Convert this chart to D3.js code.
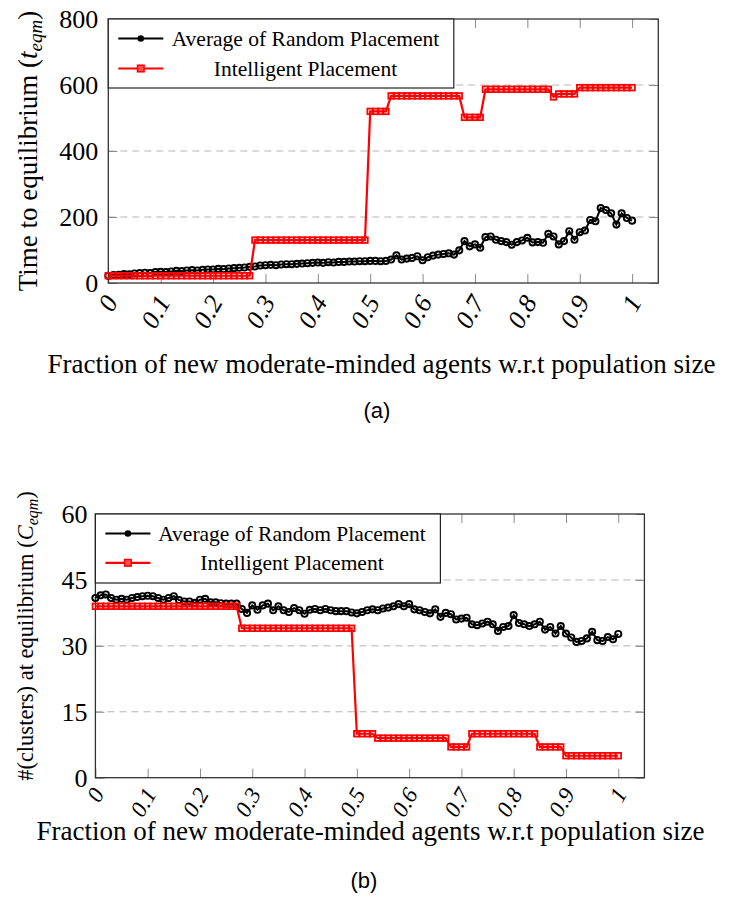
<!DOCTYPE html>
<html>
<head>
<meta charset="utf-8">
<script src="https://cdn.jsdelivr.net/npm/d3@7"></script>
<style>
  body { margin: 0; background: #fff; }
  text { font-family: "Liberation Serif", "Times New Roman", serif; fill: #000; }
</style>
</head>
<body>
<svg id="fig" width="751" height="923"></svg>
<script>
// x positions: fraction of new moderate-minded agents, step 0.01
var fractions = d3.range(0, 101).map(function(i) { return i / 100; });
var xTicks = [0, 0.1, 0.2, 0.3, 0.4, 0.5, 0.6, 0.7, 0.8, 0.9, 1];

// (a) time to equilibrium
var timeRandom = [
  22, 24, 25, 27, 26, 29, 30, 31, 30, 33,
  34, 33, 35, 37, 36, 38, 39, 38, 40, 41,
  41, 43, 42, 44, 45, 46, 47, 49, 50, 53,
  54, 55, 54, 56, 57, 57, 58, 59, 60, 61,
  62, 61, 63, 62, 64, 64, 65, 65, 66, 66,
  67, 67, 66, 67, 71, 84, 71, 74, 76, 81,
  69, 78, 83, 86, 88, 90, 86, 99, 127, 111,
  117, 107, 139, 141, 131, 127, 124, 116, 124, 129,
  137, 123, 124, 122, 149, 141, 117, 127, 157, 131,
  154, 159, 191, 187, 227, 221, 211, 177, 211, 197, 189
];
var timeIntelligent = [
  22, 22, 22, 22, 22, 22, 22, 22, 22, 22,
  22, 22, 22, 22, 22, 22, 22, 22, 22, 22,
  22, 22, 22, 22, 22, 22, 22, 22, 130, 130,
  130, 130, 130, 130, 130, 130, 130, 130, 130, 130,
  130, 130, 130, 130, 130, 130, 130, 130, 130, 130,
  520, 520, 520, 520, 567, 567, 567, 567, 567, 567,
  567, 567, 567, 567, 567, 567, 567, 567, 502, 502,
  502, 502, 587, 587, 587, 587, 587, 587, 587, 587,
  587, 587, 587, 587, 587, 564, 573, 573, 573, 573,
  592, 592, 592, 592, 592, 592, 592, 592, 592, 592, 592
];
var timeTicks = [0, 200, 400, 600, 800];

// (b) number of clusters at equilibrium
var clusterRandom = [
  40.9, 41.5, 41.7, 40.9, 40.5, 40.7, 40.5, 40.9, 41.1, 41.3,
  41.4, 41.3, 40.9, 40.5, 40.9, 41.3, 40.4, 40.1, 40.1, 39.8,
  40.5, 40.7, 39.9, 39.9, 39.7, 39.6, 39.6, 39.6, 38.4, 37.5,
  39.2, 38.2, 39.2, 39.6, 38.1, 39.0, 38.1, 37.7, 38.6, 38.1,
  37.3, 38.2, 38.4, 38.1, 38.4, 38.1, 37.9, 37.9, 37.9, 37.6,
  37.4, 37.7, 38.1, 38.3, 38.1, 38.5, 38.7, 39.0, 39.5, 39.0,
  39.5, 38.3, 38.1, 37.7, 37.4, 38.3, 36.6, 37.5, 37.2, 36.0,
  36.2, 36.4, 34.9, 34.7, 35.1, 35.5, 34.9, 33.4, 34.3, 34.5,
  37.0, 35.2, 34.9, 34.5, 34.9, 35.5, 33.7, 34.3, 32.8, 34.5,
  32.8, 31.9, 30.9, 31.1, 31.7, 33.2, 31.3, 31.1, 32.0, 31.5, 32.7
];
var clusterIntelligent = [
  39, 39, 39, 39, 39, 39, 39, 39, 39, 39,
  39, 39, 39, 39, 39, 39, 39, 39, 39, 39,
  39, 39, 39, 39, 39, 39, 39, 39, 34, 34,
  34, 34, 34, 34, 34, 34, 34, 34, 34, 34,
  34, 34, 34, 34, 34, 34, 34, 34, 34, 34,
  10, 10, 10, 10, 9, 9, 9, 9, 9, 9,
  9, 9, 9, 9, 9, 9, 9, 9, 7, 7,
  7, 7, 10, 10, 10, 10, 10, 10, 10, 10,
  10, 10, 10, 10, 10, 7, 7, 7, 7, 7,
  5, 5, 5, 5, 5, 5, 5, 5, 5, 5, 5
];
var clusterTicks = [0, 15, 30, 45, 60];

var seriesNames = ["Average of Random Placement", "Intelligent Placement"];
var xTitle = "Fraction of new moderate-minded agents w.r.t population size";

var svg = d3.select("#fig");

function drawPanel(p) {
  var g = svg.append("g");
  var x = d3.scaleLinear().domain([0, 1.05]).range([p.left, p.right]);
  var y = d3.scaleLinear().domain([0, p.yTicks[p.yTicks.length - 1]]).range([p.bottom, p.top]);

  // dashed grid
  g.append("g").selectAll("line")
    .data(p.yTicks.slice(1, -1))
    .enter().append("line")
    .attr("x1", p.left).attr("x2", p.right)
    .attr("y1", function(d) { return y(d); })
    .attr("y2", function(d) { return y(d); })
    .attr("stroke", "#b5b5b5").attr("stroke-width", 1)
    .attr("stroke-dasharray", "7,5");

  // inward ticks on all four sides
  var tk = 9;
  var sides = [
    [d3.axisTop(x).tickValues(xTicks), "translate(0," + p.bottom + ")"],
    [d3.axisBottom(x).tickValues(xTicks), "translate(0," + p.top + ")"],
    [d3.axisRight(y).tickValues(p.yTicks), "translate(" + p.left + ",0)"],
    [d3.axisLeft(y).tickValues(p.yTicks), "translate(" + p.right + ",0)"]
  ];
  sides.forEach(function(s) {
    var a = g.append("g").attr("transform", s[1])
      .call(s[0].tickSize(tk).tickFormat(""));
    a.select(".domain").remove();
    a.selectAll("line").attr("stroke", "#8a8a8a");
  });

  // x tick labels, rotated
  var xl = g.append("g").attr("transform", "translate(0," + p.bottom + ")")
    .call(d3.axisBottom(x).tickValues(xTicks).tickSize(0).tickFormat(function(d) { return d; }));
  xl.select(".domain").remove();
  xl.selectAll("text")
    .attr("y", 0).attr("dy", 0)
    .attr("transform", p.xLabelShift + " rotate(-60)")
    .attr("text-anchor", "end")
    .style("font-family", '"Liberation Serif", serif')
    .style("font-style", "italic")
    .style("font-size", p.xLabelSize + "px");

  // y tick labels
  var yl = g.append("g").attr("transform", "translate(" + p.left + ",0)")
    .call(d3.axisLeft(y).tickValues(p.yTicks).tickSize(0).tickPadding(p.yPad));
  yl.select(".domain").remove();
  yl.selectAll("text")
    .style("font-family", '"Liberation Serif", serif')
    .style("font-size", "26px");

  // frame
  g.append("rect")
    .attr("x", p.left).attr("y", p.top)
    .attr("width", p.right - p.left).attr("height", p.bottom - p.top)
    .attr("fill", "none").attr("stroke", "#333").attr("stroke-width", 1.3);

  var line = d3.line()
    .x(function(d, i) { return x(fractions[i]); })
    .y(function(d) { return y(d); });

  // random placement (black, open circles)
  g.append("path").datum(p.black)
    .attr("d", line).attr("fill", "none")
    .attr("stroke", "#000").attr("stroke-width", 2);
  g.append("g").selectAll("circle")
    .data(p.black).enter().append("circle")
    .attr("cx", function(d, i) { return x(fractions[i]); })
    .attr("cy", function(d) { return y(d); })
    .attr("r", 3.1)
    .attr("fill", "none").attr("stroke", "#000").attr("stroke-width", 1.9);

  // intelligent placement (red, open squares)
  g.append("path").datum(p.red)
    .attr("d", line).attr("fill", "none")
    .attr("stroke", "#ff0000").attr("stroke-width", 2.2);
  g.append("g").selectAll("rect")
    .data(p.red).enter().append("rect")
    .attr("x", function(d, i) { return x(fractions[i]) - 2.8; })
    .attr("y", function(d) { return y(d) - 2.8; })
    .attr("width", 5.6).attr("height", 5.6)
    .attr("fill", "none").attr("stroke", "#ff0000").attr("stroke-width", 1.8);

  // legend
  var lg = g.append("g");
  lg.append("rect")
    .attr("x", p.left).attr("y", p.top)
    .attr("width", p.legW).attr("height", p.legH)
    .attr("fill", "#fff").attr("stroke", "#222").attr("stroke-width", 1.2);
  var rows = [
    { name: seriesNames[0], color: "#000", mark: "circle" },
    { name: seriesNames[1], color: "#ff0000", mark: "square" }
  ];
  rows.forEach(function(r, i) {
    var ry = p.top + p.legRow0 + i * p.legRowGap;
    lg.append("line")
      .attr("x1", p.left + p.legLine0).attr("x2", p.left + p.legLine1)
      .attr("y1", ry).attr("y2", ry)
      .attr("stroke", r.color).attr("stroke-width", 2.2);
    var cx = p.left + (p.legLine0 + p.legLine1) / 2;
    if (r.mark == "circle") {
      lg.append("circle").attr("cx", cx).attr("cy", ry).attr("r", 3.3).attr("fill", "#000");
    } else {
      lg.append("rect").attr("x", cx - 3.3).attr("y", ry - 3.3)
        .attr("width", 6.6).attr("height", 6.6)
        .attr("fill", "#ff5050").attr("stroke", "#ff0000").attr("stroke-width", 1.5);
    }
    lg.append("text")
      .attr("x", p.legTextX).attr("y", ry + 7)
      .attr("text-anchor", "middle")
      .style("font-size", "21.5px")
      .text(r.name);
  });

  // y axis title
  var yt = svg.append("text")
    .attr("transform", "translate(" + p.yTitleX + "," + p.yTitleY + ") rotate(-90)")
    .attr("text-anchor", "middle")
    .style("font-size", p.yTitleSize + "px");
  yt.append("tspan").text(p.yTitle[0]);
  yt.append("tspan").style("font-style", "italic").text(p.yTitle[1]);
  yt.append("tspan").attr("dy", 5).style("font-style", "italic")
    .style("font-size", Math.round(p.yTitleSize * 0.7) + "px").text("eqm");
  yt.append("tspan").attr("dy", -5).text(")");

  // x axis title
  svg.append("text")
    .attr("x", p.xTitleX).attr("y", p.xTitleY)
    .attr("text-anchor", "middle")
    .style("font-size", "27px")
    .text(xTitle);

  // caption
  svg.append("text")
    .attr("x", p.capX).attr("y", p.capY)
    .attr("text-anchor", "middle")
    .style("font-family", '"Liberation Sans", Arial, sans-serif')
    .style("font-size", "22px")
    .text(p.caption);
}

drawPanel({
  left: 108.3, right: 658.3, top: 19, bottom: 283,
  yTicks: timeTicks, yPad: 10,
  xLabelSize: 26, xLabelShift: "translate(10,19)",
  black: timeRandom, red: timeIntelligent,
  legW: 345.5, legH: 69, legRow0: 19.5, legRowGap: 30,
  legLine0: 10, legLine1: 55, legTextX: 305.5,
  yTitle: ["Time to equilibrium (", "t"], yTitleSize: 27, yTitleX: 37, yTitleY: 151,
  xTitleX: 381.5, xTitleY: 373,
  caption: "(a)", capX: 377, capY: 418
});

drawPanel({
  left: 95.4, right: 644.4, top: 514, bottom: 777.7,
  yTicks: clusterTicks, yPad: 8,
  xLabelSize: 23, xLabelShift: "translate(9,16)",
  black: clusterRandom, red: clusterIntelligent,
  legW: 345, legH: 69, legRow0: 19.5, legRowGap: 29.3,
  legLine0: 10, legLine1: 55, legTextX: 292,
  yTitle: ["#(clusters) at equilibrium (", "C"], yTitleSize: 22.5, yTitleX: 33, yTitleY: 636,
  xTitleX: 370.5, xTitleY: 840,
  caption: "(b)", capX: 364, capY: 888
});
</script>
</body>
</html>
